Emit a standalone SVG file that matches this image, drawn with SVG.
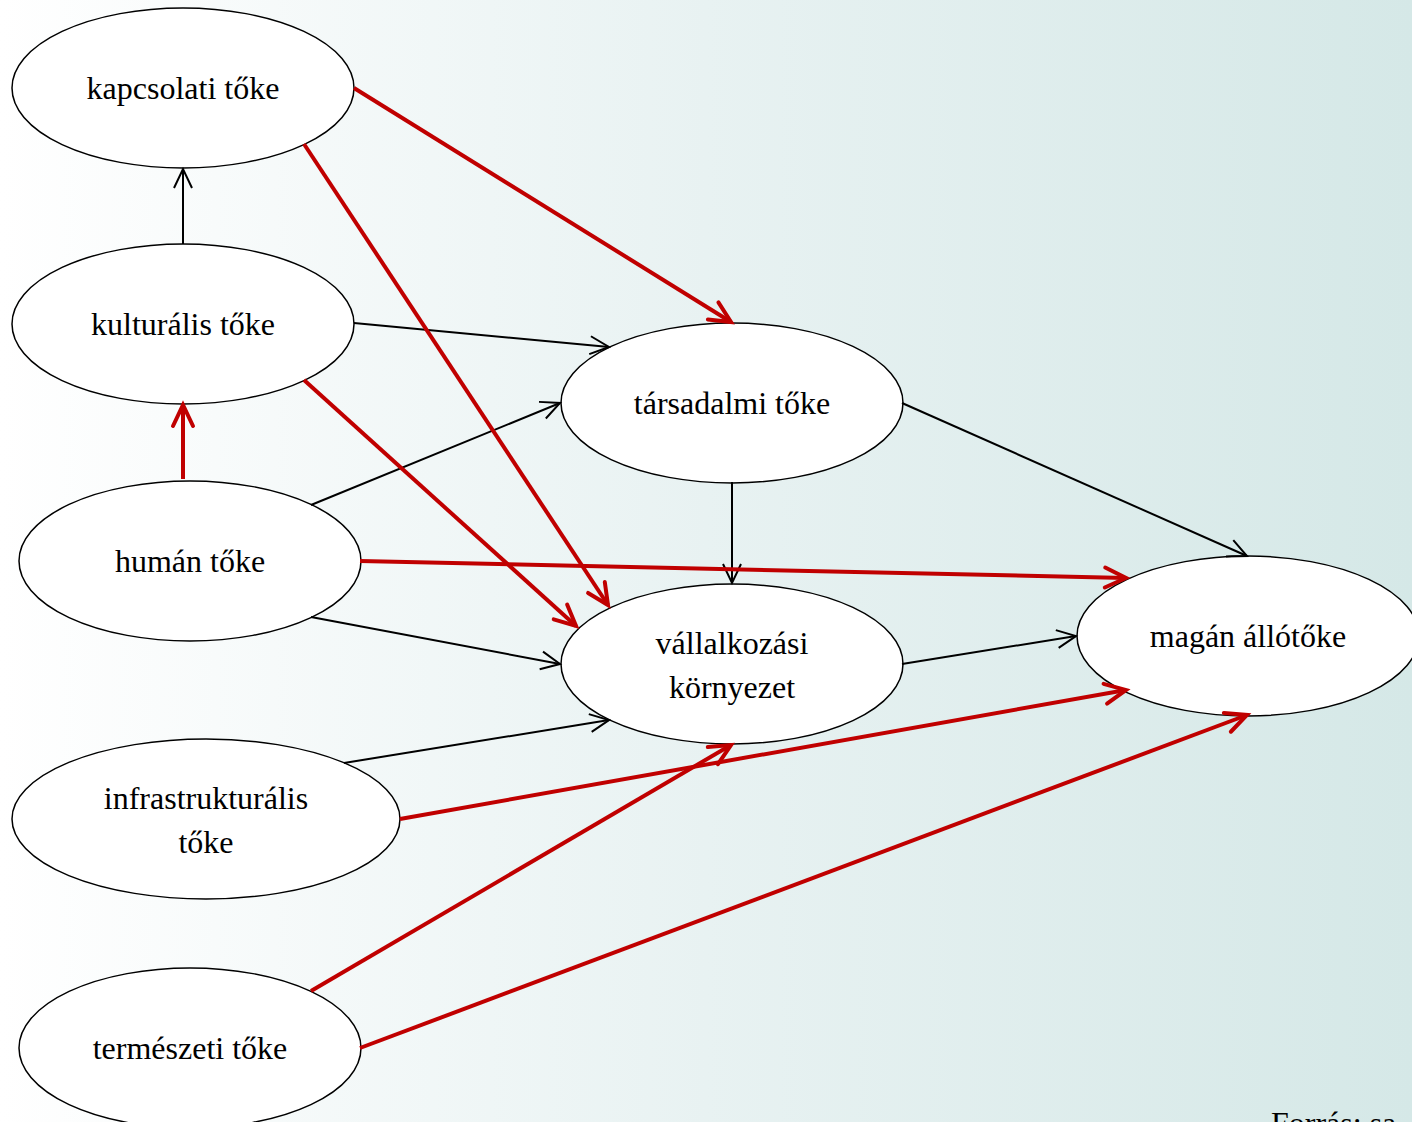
<svg xmlns="http://www.w3.org/2000/svg" width="1412" height="1122" viewBox="0 0 1412 1122">
<defs>
<linearGradient id="bg" x1="0" y1="0" x2="1" y2="0">
<stop offset="0" stop-color="#ffffff"/>
<stop offset="0.5" stop-color="#e8f2f2"/>
<stop offset="1" stop-color="#d5e8e7"/>
</linearGradient>
<marker id="ab" markerUnits="userSpaceOnUse" markerWidth="30" markerHeight="30" viewBox="-25 -15 30 30" refX="0" refY="0" orient="auto">
<path d="M-19,-9 L0,0 L-19,9" fill="none" stroke="#000" stroke-width="2"/>
</marker>
<marker id="ar" markerUnits="userSpaceOnUse" markerWidth="34" markerHeight="34" viewBox="-28 -17 34 34" refX="0" refY="0" orient="auto">
<path d="M-21,-10 L0,0 L-21,10" fill="none" stroke="#c00000" stroke-width="4" stroke-linecap="round" stroke-linejoin="miter"/>
</marker>
</defs>
<style>
.n ellipse{fill:#fff;stroke:#000;stroke-width:1.5}
.n text{font-family:"Liberation Serif","Times New Roman",serif;font-size:32px;fill:#000;text-anchor:middle}
.b{stroke:#000;stroke-width:2;fill:none;marker-end:url(#ab)}
.r{stroke:#c00000;stroke-width:4;fill:none;marker-end:url(#ar)}
</style>
<rect x="0" y="0" width="1412" height="1122" fill="url(#bg)"/>
<g id="nodes" class="n">
<g id="kapcsolati"><ellipse cx="183" cy="88" rx="171" ry="80"/><text x="183" y="99">kapcsolati tőke</text></g>
<g id="kulturalis"><ellipse cx="183" cy="324" rx="171" ry="80"/><text x="183" y="335">kulturális tőke</text></g>
<g id="human"><ellipse cx="190" cy="561" rx="171" ry="80"/><text x="190" y="572">humán tőke</text></g>
<g id="tarsadalmi"><ellipse cx="732" cy="403" rx="171" ry="80"/><text x="732" y="414">társadalmi tőke</text></g>
<g id="vallalkozasi"><ellipse cx="732" cy="664" rx="171" ry="80"/><text x="732" y="654">vállalkozási</text><text x="732" y="698">környezet</text></g>
<g id="magan"><ellipse cx="1248" cy="636" rx="171" ry="80"/><text x="1248" y="647">magán állótőke</text></g>
<g id="infra"><ellipse cx="206" cy="819" rx="194" ry="80"/><text x="206" y="809">infrastrukturális</text><text x="206" y="853">tőke</text></g>
<g id="termeszeti"><ellipse cx="190" cy="1048" rx="171" ry="80"/><text x="190" y="1059">természeti tőke</text></g>
</g>
<g id="connectors">
<line class="b" x1="183" y1="244" x2="183" y2="169"/>
<line class="b" x1="354" y1="323" x2="609" y2="347"/>
<line class="b" x1="311" y1="505" x2="560" y2="403"/>
<line class="b" x1="902" y1="403" x2="1247" y2="556"/>
<line class="b" x1="732" y1="482" x2="732" y2="583"/>
<line class="b" x1="311" y1="617" x2="560" y2="664"/>
<line class="b" x1="344" y1="763" x2="609" y2="720"/>
<line class="b" x1="902" y1="664" x2="1076" y2="636"/>
<line class="r" x1="354" y1="88" x2="731" y2="322"/>
<line class="r" x1="304" y1="144" x2="608" y2="605"/>
<line class="r" x1="304" y1="380" x2="576" y2="626"/>
<line class="r" x1="183" y1="479" x2="183" y2="405"/>
<line class="r" x1="360" y1="561" x2="1126" y2="578"/>
<line class="r" x1="400" y1="819" x2="1126" y2="690"/>
<line class="r" x1="311" y1="991" x2="731" y2="745"/>
<line class="r" x1="360" y1="1048" x2="1247" y2="715"/>
</g>
<text x="1271" y="1134" font-family="Liberation Serif, 'Times New Roman', serif" font-size="32px" fill="#000">Forrás: sa</text>
</svg>
